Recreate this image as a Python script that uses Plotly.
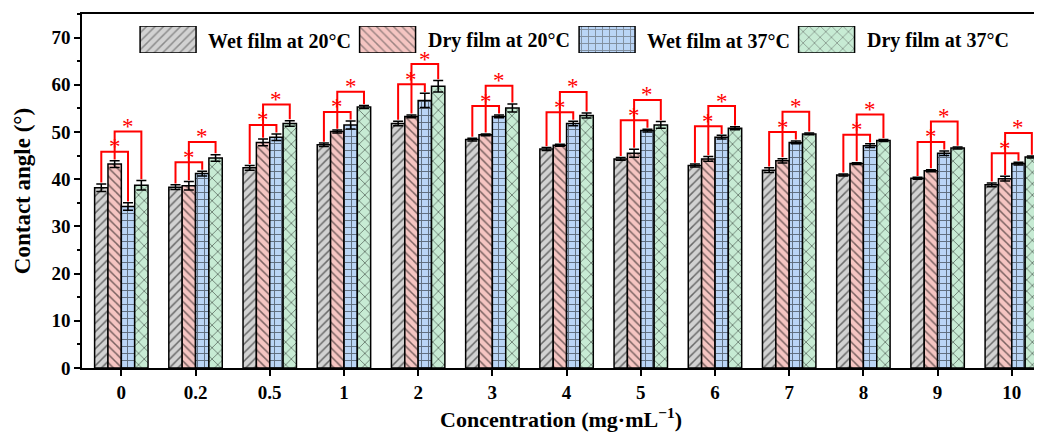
import plotly.graph_objects as go

categories = ["0", "0.2", "0.5", "1", "2", "3", "4", "5", "6", "7", "8", "9", "10"]
series_names = ["Wet film at 20°C", "Dry film at 20°C", "Wet film at 37°C", "Dry film at 37°C"]

wet20 = [38.2, 38.3, 42.4, 47.3, 51.8, 48.4, 46.4, 44.3, 42.9, 41.9, 40.9, 40.2, 38.8]
wet20_err = [0.8, 0.5, 0.5, 0.35, 0.5, 0.3, 0.3, 0.3, 0.3, 0.5, 0.2, 0.2, 0.4]
dry20 = [43.2, 38.6, 47.8, 50.1, 53.3, 49.4, 47.2, 45.5, 44.3, 43.9, 43.3, 41.8, 40.1]
dry20_err = [0.7, 0.9, 0.7, 0.3, 0.3, 0.2, 0.2, 0.85, 0.5, 0.45, 0.2, 0.2, 0.5]
wet37 = [34.2, 41.2, 48.9, 51.5, 56.7, 53.3, 51.8, 50.3, 48.9, 47.8, 47.1, 45.5, 43.3]
wet37_err = [0.8, 0.5, 0.7, 0.85, 1.5, 0.3, 0.5, 0.3, 0.4, 0.3, 0.4, 0.5, 0.3]
dry37 = [38.7, 44.5, 51.8, 55.3, 59.7, 55.1, 53.5, 51.5, 50.8, 49.6, 48.2, 46.6, 44.7]
dry37_err = [1.0, 0.7, 0.6, 0.3, 1.2, 0.85, 0.55, 0.7, 0.3, 0.2, 0.2, 0.2, 0.2]

values = [wet20, dry20, wet37, dry37]
errors = [wet20_err, dry20_err, wet37_err, dry37_err]
fills = ["#d2d2d2", "#f5c5c2", "#bad5f6", "#c7ebd4"]
shapes = ["/", "\\", "+", "x"]
psizes = [6, 6, 7, 8]
psolid = [0.25, 0.25, 0.25, 0.2]

FONT = "Liberation Serif, Times New Roman, Times, serif"
BW = 0.18
x_idx = list(range(len(categories)))

fig = go.Figure()
for i in range(4):
    fig.add_trace(go.Bar(
        x=x_idx, y=values[i], name=series_names[i],
        width=BW, offset=-2 * BW + i * BW,
        marker=dict(color=fills[i],
                    line=dict(color="black", width=1.5),
                    pattern=dict(shape=shapes[i], fgcolor="black", bgcolor=fills[i],
                                 size=psizes[i], solidity=psolid[i])),
        error_y=dict(type="data", array=errors[i], color="black", thickness=1.5, width=5),
        showlegend=False,
    ))

# significance brackets (wet20 vs wet37, dry20 vs dry37)
bx, by = [], []
stars = []
for g in x_idx:
    centers = [g - 1.5 * BW + k * BW for k in range(4)]
    tops = [values[k][g] + errors[k][g] for k in range(4)]
    h1 = max(tops[0], tops[1], tops[2]) + 1.9
    h2 = max(h1 + 4.3, tops[3] + 1.9)
    for (a, b, h) in [(0, 2, h1), (1, 3, h2)]:
        bx += [centers[a], centers[a], centers[b], centers[b], None]
        by += [tops[a] + 0.3, h, h, tops[b] + 0.3, None]
        stars.append(((centers[a] + centers[b]) / 2, h))

fig.add_trace(go.Scatter(x=bx, y=by, mode="lines", line=dict(color="#ff0000", width=2),
                         hoverinfo="skip", showlegend=False))

annotations = []
for (sx, sy) in stars:
    annotations.append(dict(x=sx, y=sy, xref="x", yref="y", text="*", showarrow=False,
                            yanchor="middle", yshift=5,
                            font=dict(family=FONT, size=23, color="#ff0000")))

# legend drawn as swatches on an overlay axis
fig.add_trace(go.Bar(
    x=series_names, y=[1, 1, 1, 1], xaxis="x2", yaxis="y2",
    width=0.255, offset=-0.454,
    marker=dict(color=fills, line=dict(color="black", width=1.5),
                pattern=dict(shape=shapes, fgcolor="black", bgcolor=fills,
                             size=psizes, solidity=psolid)),
    hoverinfo="skip", showlegend=False,
))
for i, nm in enumerate(series_names):
    annotations.append(dict(x=i - 0.153, y=0.45, xref="x2", yref="y2", text=nm,
                            showarrow=False, xanchor="left", yanchor="middle",
                            font=dict(family=FONT, size=20, color="black", weight="bold")))

fig.update_layout(
    width=1034, height=426,
    margin=dict(l=74, r=2, t=6, b=66),
    plot_bgcolor="white", paper_bgcolor="white",
    showlegend=False, barmode="overlay",
    font=dict(family=FONT, color="black"),
    annotations=annotations,
    xaxis=dict(range=[-0.53, 12.38], tickvals=x_idx, ticktext=categories,
               ticks="outside", ticklen=6, tickwidth=1.5, tickcolor="black",
               showline=True, linewidth=1.5, linecolor="black", mirror=True,
               showgrid=False, zeroline=False,
               tickfont=dict(family=FONT, size=19, weight="bold", color="black"),
               title=dict(text="Concentration (mg·mL<sup>−1</sup>)", standoff=10,
                          font=dict(family=FONT, size=22, weight="bold", color="black"))),
    yaxis=dict(range=[0, 75], dtick=10, tick0=0,
               ticks="outside", ticklen=6, tickwidth=1.5, tickcolor="black",
               minor=dict(dtick=5, ticks="outside", ticklen=3, tickwidth=1.5, tickcolor="black"),
               showline=True, linewidth=1.5, linecolor="black",
               showgrid=False, zeroline=False,
               tickfont=dict(family=FONT, size=19, weight="bold", color="black"),
               title=dict(text="Contact angle (°)", standoff=14,
                          font=dict(family=FONT, size=23, weight="bold", color="black"))),
    xaxis2=dict(domain=[0.0501, 0.9666], anchor="y2", type="category",
                range=[-0.5, 3.5], visible=False, fixedrange=True),
    yaxis2=dict(domain=[0.8898, 0.9661], anchor="x2", range=[0, 1],
                visible=False, fixedrange=True),
)

fig.write_html("out.html")
